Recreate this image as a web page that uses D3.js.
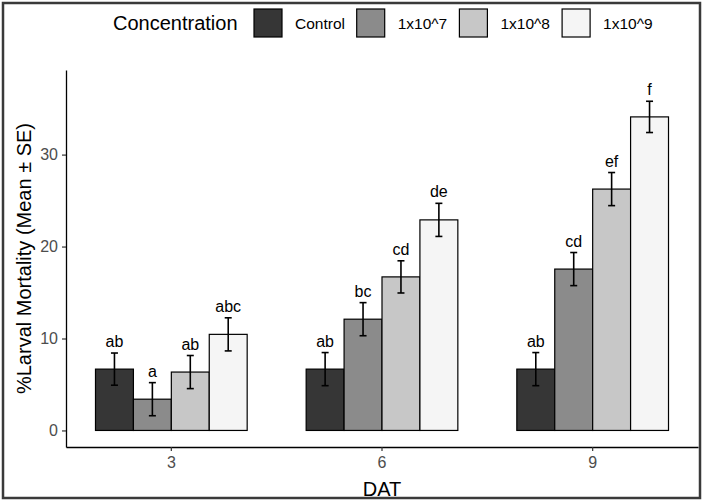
<!DOCTYPE html>
<html>
<head>
<meta charset="utf-8">
<script src="https://cdn.jsdelivr.net/npm/d3@7"></script>
<style>
  body { margin: 0; background: #fff; }
  svg { display: block; font-family: "Liberation Sans", Arial, sans-serif; }
</style>
</head>
<body>
<div class="canvas"></div>
<script>
// data
const days = ['3', '6', '9'];
const concentrations = ['Control', '1x10^7', '1x10^8', '1x10^9'];
const fills = ['#363636', '#8b8b8b', '#c7c7c7', '#f5f5f5'];

const meanControl = [6.67, 6.67, 6.67];
const mean7 = [3.4, 12.1, 17.55];
const mean8 = [6.35, 16.7, 26.25];
const mean9 = [10.45, 22.9, 34.1];

const seControl = [1.75, 1.8, 1.8];
const se7 = [1.8, 1.8, 1.8];
const se8 = [1.8, 1.75, 1.8];
const se9 = [1.8, 1.8, 1.7];

const lettersControl = ['ab', 'ab', 'ab'];
const letters7 = ['a', 'bc', 'cd'];
const letters8 = ['ab', 'cd', 'ef'];
const letters9 = ['abc', 'de', 'f'];

const yTicks = [0, 10, 20, 30];

const means = [meanControl, mean7, mean8, mean9];
const ses = [seControl, se7, se8, se9];
const letters = [lettersControl, letters7, letters8, letters9];

// flatten into rows
const rows = [];
days.forEach((day, di) => {
  concentrations.forEach((c, ci) => {
    rows.push({day, conc: c, mean: means[ci][di], se: ses[ci][di], label: letters[ci][di], fill: fills[ci]});
  });
});

const width = 705, height = 502;
const panel = {left: 66, right: 698, top: 70, bottom: 447};

const svg = d3.select('.canvas')
  .append('svg')
    .attr('width', width)
    .attr('height', height);

// outer frame
svg.append('rect')
  .attr('x', 3).attr('y', 3)
  .attr('width', 697).attr('height', 495)
  .attr('fill', 'none')
  .attr('stroke', '#3a3a3a')
  .attr('stroke-width', 2.5);

// scales
const x0 = d3.scaleBand()
  .domain(days)
  .range([panel.left, panel.right])
  .paddingInner(0.28)
  .paddingOuter(0.14);

const x1 = d3.scaleBand()
  .domain(concentrations)
  .range([0, x0.bandwidth()]);

const y = d3.scaleLinear()
  .domain([-1.8, 39.2])
  .range([panel.bottom, panel.top]);

// bars
const bars = svg.append('g');
bars.selectAll('rect')
  .data(rows)
  .enter()
  .append('rect')
    .attr('x', d => x0(d.day) + x1(d.conc))
    .attr('y', d => y(d.mean))
    .attr('width', x1.bandwidth())
    .attr('height', d => y(0) - y(d.mean))
    .attr('fill', d => d.fill)
    .attr('stroke', '#000')
    .attr('stroke-width', 1.2);

// error bars
const cap = 3.5;
const errs = svg.append('g')
  .attr('stroke', '#000')
  .attr('stroke-width', 1.6);

rows.forEach(d => {
  const cx = x0(d.day) + x1(d.conc) + x1.bandwidth() / 2;
  const y1 = y(d.mean + d.se), y2 = y(d.mean - d.se);
  errs.append('line').attr('x1', cx).attr('x2', cx).attr('y1', y1).attr('y2', y2);
  errs.append('line').attr('x1', cx - cap).attr('x2', cx + cap).attr('y1', y1).attr('y2', y1);
  errs.append('line').attr('x1', cx - cap).attr('x2', cx + cap).attr('y1', y2).attr('y2', y2);
});

// letter labels
svg.append('g')
  .selectAll('text')
  .data(rows)
  .enter()
  .append('text')
    .attr('x', d => x0(d.day) + x1(d.conc) + x1.bandwidth() / 2)
    .attr('y', d => y(d.mean + d.se) - 6)
    .attr('text-anchor', 'middle')
    .attr('font-size', 16)
    .attr('fill', '#000')
    .text(d => d.label);

// axes
const xAxis = d3.axisBottom(x0).tickSize(4).tickSizeOuter(0).tickPadding(6);
const yAxis = d3.axisLeft(y).tickValues(yTicks).tickSize(4).tickSizeOuter(0).tickPadding(4);

const xAxisGroup = svg.append('g')
  .attr('transform', `translate(0, ${panel.bottom})`)
  .call(xAxis);

const yAxisGroup = svg.append('g')
  .attr('transform', `translate(${panel.left}, 0)`)
  .call(yAxis);

[xAxisGroup, yAxisGroup].forEach(g => {
  g.select('.domain').attr('stroke', '#000').attr('stroke-width', 1.3);
  g.selectAll('.tick line').attr('stroke', '#333').attr('stroke-width', 1.2);
  g.selectAll('.tick text')
    .attr('fill', '#4d4d4d')
    .attr('font-size', 16)
    .attr('font-family', '"Liberation Sans", Arial, sans-serif');
});

// axis titles
svg.append('text')
  .attr('x', (panel.left + panel.right) / 2)
  .attr('y', 496)
  .attr('text-anchor', 'middle')
  .attr('font-size', 20)
  .attr('fill', '#000')
  .text('DAT');

svg.append('text')
  .attr('transform', `translate(31, ${(panel.top + panel.bottom) / 2}) rotate(-90)`)
  .attr('text-anchor', 'middle')
  .attr('font-size', 20)
  .attr('fill', '#000')
  .text('%Larval Mortality (Mean ± SE)');

// legend
const legend = svg.append('g');
legend.append('text')
  .attr('x', 113)
  .attr('y', 30)
  .attr('font-size', 20)
  .attr('fill', '#000')
  .text('Concentration');

const keys = legend.selectAll('g.key')
  .data(concentrations)
  .enter()
  .append('g')
    .attr('class', 'key')
    .attr('transform', (d, i) => `translate(${254 + i * 102.7}, 9)`);

keys.append('rect')
  .attr('width', 28)
  .attr('height', 28)
  .attr('fill', (d, i) => fills[i])
  .attr('stroke', '#000')
  .attr('stroke-width', 1.2);

keys.append('text')
  .attr('x', 41)
  .attr('y', 20)
  .attr('font-size', 15.5)
  .attr('fill', '#000')
  .text(d => d);
</script>
</body>
</html>
